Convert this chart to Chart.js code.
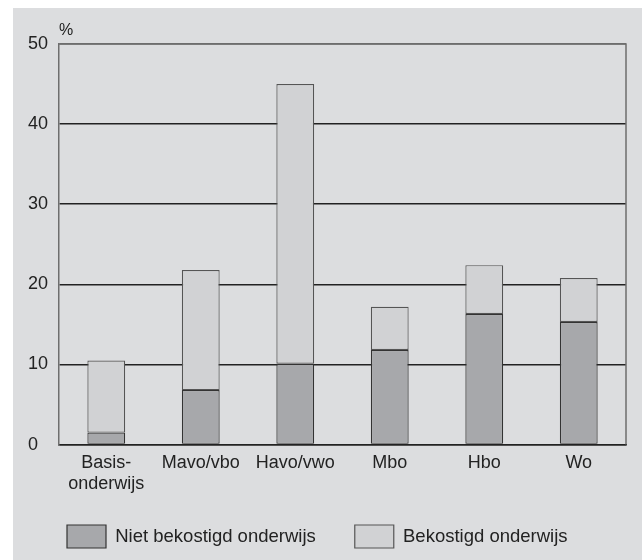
<!DOCTYPE html>
<html>
<head>
<meta charset="utf-8">
<script src="https://cdn.jsdelivr.net/npm/chart.js@4.4.1/dist/chart.umd.min.js"></script>
<style>
    body { margin: 0; background: #ffffff; }
    #box { position: absolute; left: 13px; top: 8px; width: 629px; height: 552px; background: #dcdddf; }
</style>
</head>
<body>
<div id="box"><canvas id="myChart"></canvas></div>
<script>
let categories = [['Basis-', 'onderwijs'], 'Mavo/vbo', 'Havo/vwo', 'Mbo', 'Hbo', 'Wo'];
let nietBekostigd = [1.5, 6.8, 10.1, 11.8, 16.3, 15.3];
let totaal = [10.5, 21.8, 45.0, 17.2, 22.4, 20.8];
let yTicks = [0, 10, 20, 30, 40, 50];

// the light part sits on top of the dark part, so it is total minus the dark part
let bekostigd = [];
totaal.forEach((t, i) => bekostigd.push(Math.round((t - nietBekostigd[i]) * 10) / 10));

let fontName = 'Liberation Sans, Arial, sans-serif';
let legendLift = 16;

let framePlugin = {
    id: 'frame',
    beforeDatasetsDraw: function (chart) {
        let ctx = chart.ctx;
        let a = chart.chartArea;
        ctx.save();
        ctx.strokeStyle = '#6e6e6e';
        ctx.lineWidth = 1.5;
        ctx.beginPath();
        ctx.moveTo(a.left, a.top);
        ctx.lineTo(a.right, a.top);
        ctx.lineTo(a.right, a.bottom);
        ctx.stroke();
        ctx.restore();
    },
    afterDraw: function (chart) {
        let ctx = chart.ctx;
        let a = chart.chartArea;
        ctx.save();
        ctx.fillStyle = '#222222';
        ctx.font = '16px ' + fontName;
        ctx.textAlign = 'left';
        ctx.textBaseline = 'alphabetic';
        ctx.fillText('%', a.left, a.top - 9);
        ctx.restore();
    }
};

// legend padding is wide between the items, but less room is wanted above them
let legendShift = {
    id: 'legendShift',
    beforeInit: function (chart) {
        let fit = chart.legend.fit;
        chart.legend.fit = function () {
            fit.call(this);
            this.height -= legendLift;
        };
    },
    afterLayout: function (chart) {
        chart.legend.top -= legendLift;
        chart.legend.height += legendLift;
    }
};

let ctx = document.getElementById('myChart').getContext('2d');

let myChart = new Chart(ctx, {
    type: 'bar',
    data: {
        labels: categories,
        datasets: [{
            label: 'Niet bekostigd onderwijs',
            data: nietBekostigd,
            backgroundColor: '#a7a8ab',
            borderColor: '#333333',
            borderWidth: 1.2,
            borderSkipped: false
        }, {
            label: 'Bekostigd onderwijs',
            data: bekostigd,
            backgroundColor: '#d1d2d4',
            borderColor: '#555555',
            borderWidth: 1.2,
            borderSkipped: false
        }]
    },
    options: {
        responsive: true,
        maintainAspectRatio: false,
        animation: false,
        layout: { padding: { left: 15, right: 16, top: 36, bottom: 2 } },
        datasets: { bar: { categoryPercentage: 1, barPercentage: 0.4 } },
        plugins: {
            tooltip: { enabled: false },
            legend: {
                position: 'bottom',
                align: 'start',
                labels: {
                    color: '#222222',
                    font: { family: fontName, size: 18.5 },
                    boxWidth: 39,
                    boxHeight: 23,
                    padding: 39
                }
            }
        },
        scales: {
            x: {
                stacked: true,
                grid: { display: false, drawTicks: false },
                border: { display: true, color: '#222222', width: 1.5 },
                ticks: {
                    color: '#222222',
                    padding: 8,
                    maxRotation: 0,
                    autoSkip: false,
                    font: { family: fontName, size: 18, lineHeight: 1.15 }
                }
            },
            y: {
                stacked: true,
                min: 0,
                max: 50,
                afterBuildTicks: function (axis) {
                    axis.ticks = yTicks.map(v => ({ value: v }));
                },
                grid: {
                    drawTicks: false,
                    lineWidth: 1.5,
                    color: function (c) {
                        return c.tick && c.tick.value === 50 ? '#6e6e6e' : '#222222';
                    }
                },
                border: { display: true, color: '#6e6e6e', width: 1.5 },
                ticks: {
                    color: '#222222',
                    padding: 5.5,
                    crossAlign: 'far',
                    font: { family: fontName, size: 18 }
                }
            }
        }
    },
    plugins: [framePlugin, legendShift]
});
</script>
</body>
</html>
